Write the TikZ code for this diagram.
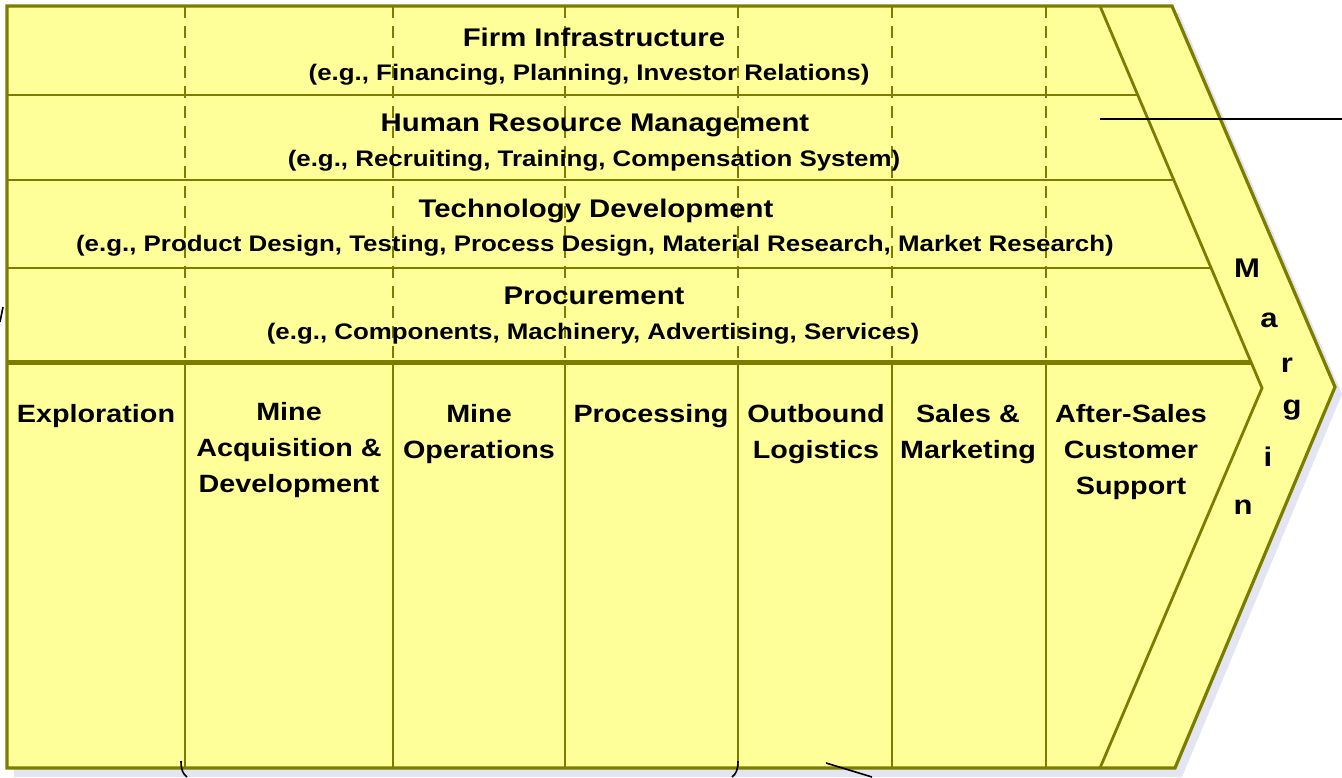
\documentclass[tikz,border=0pt]{standalone}
\usepackage{fontspec}
\newfontfamily\vcfont{Liberation Sans}[FakeStretch=1.15]
\usetikzlibrary{positioning}
\definecolor{vcfill}{HTML}{FFFF99}
\definecolor{vcline}{HTML}{7C7C00}
\definecolor{vcshade}{HTML}{E3E5F3}

\begin{document}
\begin{tikzpicture}[
  x=1pt, y=-1pt,
  frame/.style={draw=vcline,line width=3.2pt,line join=miter},
  rowline/.style={draw=vcline,line width=2.8pt},
  split/.style={draw=vcline,line width=5pt},
  colline/.style={draw=vcline,line width=2.8pt},
  guide/.style={draw=vcline,line width=2.2pt,dash pattern=on 12pt off 8pt},
  supporthead/.style={font=\vcfont\bfseries\fontsize{25.5}{30}\selectfont,anchor=base,inner sep=0pt},
  supportsub/.style={font=\vcfont\bfseries\fontsize{22.5}{27}\selectfont,anchor=base,inner sep=0pt},
  act/.style={font=\vcfont\bfseries\fontsize{25}{36}\selectfont,anchor=north,align=center,inner sep=0pt},
  letter/.style={font=\vcfont\bfseries\fontsize{27}{30}\selectfont,inner sep=0pt},
  ink/.style={draw=black,line width=1.6pt}]
\useasboundingbox (0,0) rectangle (1342,777);
\fill[vcshade] (14,13) -- (1179,13) -- (1342,394) -- (1182,777) -- (14,777) -- cycle;
\fill[vcfill] (7,6) -- (1172,6) -- (1335,387) -- (1175,768) -- (7,768) -- cycle;
\coordinate (itop) at (1100,6);
\coordinate (itip) at (1262,388);
\coordinate (ibot) at (1100,768);
\foreach \y/\xe in {95/1138,180/1174,268/1211}
  \draw[rowline] (7,\y) -- (\xe,\y);
\foreach \x in {185,393,565,738,892,1046}{
  \draw[guide] (\x,6) -- (\x,362);
  \draw[colline] (\x,362) -- (\x,768);
}
\draw[split] (7,362) -- (1252,362);
\draw[colline] (itop) -- (itip) -- (ibot);
\draw[frame] (7,6) -- (1172,6) -- (1335,387) -- (1175,768) -- (7,768) -- cycle;
\node[supporthead] (firm) at (594,46) {Firm Infrastructure};
\node[supportsub] (firmeg) at (589,80) {(e.g., Financing, Planning, Investor Relations)};
\node[supporthead] (hrm) at (595,131) {Human Resource Management};
\node[supportsub] (hrmeg) at (594,166) {(e.g., Recruiting, Training, Compensation System)};
\node[supporthead] (tech) at (596,217) {Technology Development};
\node[supportsub] (techeg) at (595,251) {(e.g., Product Design, Testing, Process Design, Material Research, Market Research)};
\node[supporthead] (proc) at (594,304) {Procurement};
\node[supportsub] (proceg) at (593,339) {(e.g., Components, Machinery, Advertising, Services)};
\node[act] (explore) at (96,404) {Exploration};
\node[act] (acquire) at (289,402) {Mine\\Acquisition \&\\Development};
\node[act] (operate) at (479,404) {Mine\\Operations};
\node[act] (process) at (651,404) {Processing};
\node[act] (outbound) at (816,404) {Outbound\\Logistics};
\node[act] (sales) at (968,404) {Sales \&\\Marketing};
\node[act] (service) at (1131,404) {After-Sales\\Customer\\Support};
\foreach \c/\x/\y [count=\i] in {M/1247/268,a/1269/320,r/1287/365,g/1292/410,i/1268/457,n/1243/507}
  \node[letter] (margin\i) at (\x,\y) {\c};
\coordinate (cuta) at (1100,119);
\coordinate (cutb) at (1342,119);
\draw[ink] (cuta) -- (cutb);
\draw[ink] (826,763) -- (872,777);
\draw[ink] (181,761) .. controls (181,770) and (183,774) .. (187,777);
\draw[ink] (738,761) .. controls (738,770) and (736,774) .. (732,777);
\draw[ink] (0,322) -- (3,307);
\end{tikzpicture}
\end{document}
